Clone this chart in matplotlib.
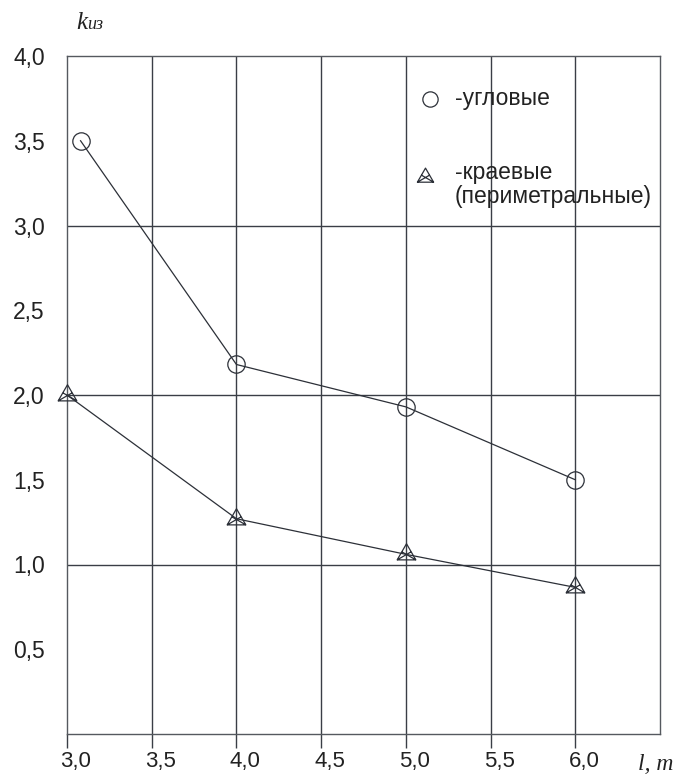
import numpy as np
import matplotlib
matplotlib.use("Agg")
import matplotlib.pyplot as plt
from matplotlib.path import Path
import matplotlib.transforms as mtransforms

# ---- data ----
x_corner = [3.08, 4.0, 5.0, 6.0]
k_corner = [3.50, 2.18, 1.93, 1.50]
x_edge = [3.0, 4.0, 5.0, 6.0]
k_edge = [2.00, 1.27, 1.06, 0.865]
x_ticks = [3.0, 3.5, 4.0, 4.5, 5.0, 5.5, 6.0]
x_tick_labels = ["3,0", "3,5", "4,0", "4,5", "5,0", "5,5", "6,0"]
y_ticks = [0.5, 1.0, 1.5, 2.0, 2.5, 3.0, 3.5, 4.0]
y_tick_labels = ["0,5", "1,0", "1,5", "2,0", "2,5", "3,0", "3,5", "4,0"]
y_grid = [1.0, 2.0, 3.0]
label_corner = "-угловые"
label_edge_1 = "-краевые"
label_edge_2 = "(периметральные)"

plt.rcParams['font.family'] = ['Liberation Sans', 'DejaVu Sans']

LC = "#2c3038"
GC = "#3a3e46"
TC = "#222222"
FS = 16.5

# triangle marker with two inner medians
s3 = np.sqrt(3) / 2
verts = [(0, 1), (-s3, -0.5), (s3, -0.5), (0, 1),
         (-s3, -0.5), (s3 / 2, 0.25),
         (s3, -0.5), (-s3 / 2, 0.25)]
codes = [Path.MOVETO, Path.LINETO, Path.LINETO, Path.CLOSEPOLY,
         Path.MOVETO, Path.LINETO,
         Path.MOVETO, Path.LINETO]
tri_marker = Path(verts, codes)

fig = plt.figure(figsize=(6.86, 7.76), dpi=100)
ax = fig.add_axes([67 / 686, 42 / 776, 593 / 686, 678 / 776])
ax.set_xlim(3.0, 6.5)
ax.set_ylim(0.0, 4.0)

# grid
for xv in x_ticks[1:]:
    ax.axvline(xv, color=GC, lw=1.0, zorder=1)
for yv in y_grid:
    ax.axhline(yv, color=GC, lw=1.0, zorder=1)

for sp in ax.spines.values():
    sp.set_color("#55595f")
    sp.set_linewidth(1.0)

# data
ax.plot(x_corner, k_corner, color=LC, lw=0.9, marker='o', ms=12.5,
        mfc='none', mec=LC, mew=0.9, zorder=3, clip_on=False)
ax.plot(x_edge, k_edge, color=LC, lw=0.9, marker=tri_marker, ms=15.5,
        mfc='none', mec=LC, mew=0.9, zorder=3, clip_on=False)

# ticks
ax.set_xticks(x_ticks)
ax.set_xticklabels(x_tick_labels)
ax.tick_params(axis='x', direction='out', length=10, width=1.0, color=GC,
               labelsize=16, labelcolor=TC, pad=2.5)
off = mtransforms.ScaledTranslation(9 / 100, 0, fig.dpi_scale_trans)
for lab in ax.get_xticklabels():
    lab.set_transform(lab.get_transform() + off)

ax.set_yticks(y_ticks)
ax.set_yticklabels(y_tick_labels)
ax.tick_params(axis='y', direction='out', length=0, labelsize=FS,
               labelcolor=TC, pad=16)
ax.set_yticks([0.5], minor=True)
ax.tick_params(axis='y', which='minor', direction='out', length=9,
               width=1.0, color=GC)

# legend (manual)
tr = ax.transAxes
ax.plot([(430 - 67) / 593], [1 - (99 - 56) / 678], transform=tr, marker='o',
        ms=11, mfc='none', mec=LC, mew=0.9, clip_on=False)
ax.text((455 - 67) / 593, 1 - (98 - 56) / 678, label_corner, transform=tr,
        fontsize=FS, color=TC, va='center', ha='left')
ax.plot([(425 - 67) / 593], [1 - (177 - 56) / 678], transform=tr,
        marker=tri_marker, ms=13.5, mfc='none', mec=LC, mew=0.9, clip_on=False)
ax.text((455 - 67) / 593, 1 - (172 - 56) / 678, label_edge_1, transform=tr,
        fontsize=FS, color=TC, va='center', ha='left')
ax.text((455 - 67) / 593, 1 - (197 - 56) / 678, label_edge_2, transform=tr,
        fontsize=FS, color=TC, va='center', ha='left')

# axis labels
fig.text(76 / 686, 1 - 29 / 776, "k", fontsize=18, family='Liberation Serif',
         style='italic', color=TC, va='baseline', ha='left')
fig.text(87 / 686, 1 - 29 / 776, "из", fontsize=13, family='Liberation Serif',
         style='italic', color=TC, va='baseline', ha='left')
fig.text(638 / 686, 1 - 770 / 776, "l, m", fontsize=17, family='Liberation Serif',
         style='italic', color=TC, va='baseline', ha='left')

fig.savefig("out.png", dpi=100)
